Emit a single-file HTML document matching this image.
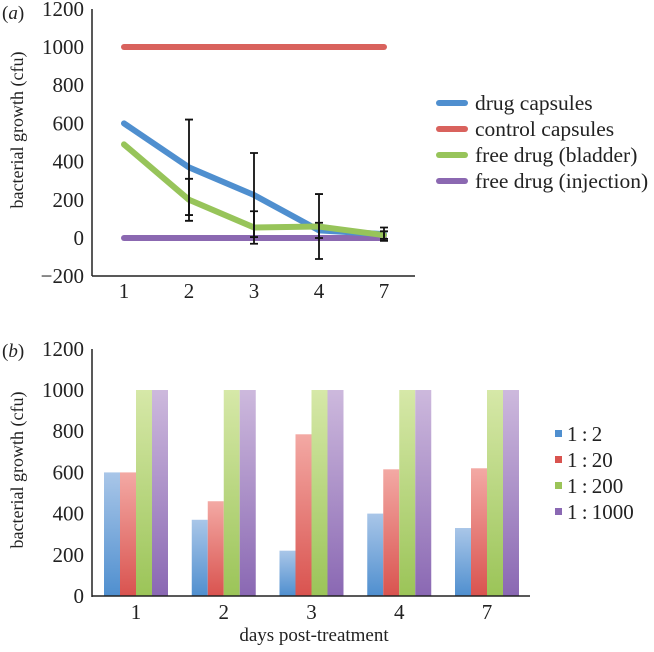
<!DOCTYPE html>
<html><head><meta charset="utf-8"><style>
body{margin:0;background:#fff;}
svg text{font-family:"Liberation Serif",serif;fill:#222;}
</style></head><body>
<svg id="c" width="654" height="647" xmlns="http://www.w3.org/2000/svg"></svg>
<script>
const lineCats=["1","2","3","4","7"];
const drugCaps=[600,370,225,40,20];
const controlCaps=[1000,1000,1000,1000,1000];
const freeBladder=[490,200,55,60,15];
const freeInj=[0,0,0,0,0];
const errDrug=[0,250,220,40,35];
const errBladder=[0,110,85,170,20];
const yTicksA=[-200,0,200,400,600,800,1000,1200];
const barCats=["1","2","3","4","7"];
const s12=[600,370,220,400,330];
const s120=[600,460,785,615,620];
const s1200=[1000,1000,1000,1000,1000];
const s11000=[1000,1000,1000,1000,1000];
const yTicksB=[0,200,400,600,800,1000,1200];

const svg=document.getElementById('c');
const NS="http://www.w3.org/2000/svg";
function mk(t,a,txt){const e=document.createElementNS(NS,t);for(const k in a)e.setAttribute(k,a[k]);if(txt!==undefined)e.textContent=txt;svg.appendChild(e);return e;}

// Panel A
const yA=v=>238-v*0.191;
const xA=i=>124+i*65;
let e;
e=mk('line',{x1:92,y1:9,x2:92,y2:276,stroke:'#222','stroke-width':1.5});

e=mk('line',{x1:92,y1:276,x2:415,y2:276,stroke:'#222','stroke-width':1.5});

yTicksA.forEach(v=>{e=mk('text',{x:84,y:yA(v)+7,'font-size':21,'text-anchor':'end'},v<0?'\u2212'+(-v):String(v));
});
lineCats.forEach((c,i)=>{e=mk('text',{x:xA(i),y:298,'font-size':21,'text-anchor':'middle'},c);
});
e=mk('text',{x:23,y:130,'font-size':18,'text-anchor':'middle',transform:'rotate(-90 23 130)'},'bacterial growth (cfu)');

e=mk('text',{x:2,y:19,'font-size':19},'');
e.innerHTML='(<tspan font-style="italic">a</tspan>)';


const series=[[controlCaps,'#d9625d','control-capsules-line'],[freeInj,'#8b68b1','free-drug-injection-line'],[drugCaps,'#4f8fcf','drug-capsules-line'],[freeBladder,'#97c45a','free-drug-bladder-line']];
series.forEach(([d,col,n])=>{e=mk('polyline',{points:d.map((v,i)=>xA(i)+','+yA(v)).join(' '),fill:'none',stroke:col,'stroke-width':6,'stroke-linecap':'round','stroke-linejoin':'round'});
});
[[drugCaps,errDrug],[freeBladder,errBladder]].forEach(([d,er])=>{d.forEach((v,i)=>{if(!er[i])return;
const x=xA(i),t=yA(v+er[i]),b=yA(v-er[i]);
e=mk('path',{d:`M${x},${t}V${b}M${x-4},${t}H${x+4}M${x-4},${b}H${x+4}`,stroke:'#111','stroke-width':1.8,fill:'none'});
});});
const legA=[['drug capsules','#4f8fcf'],['control capsules','#d9625d'],['free drug (bladder)','#97c45a'],['free drug (injection)','#8b68b1']];
legA.forEach(([t,c],i)=>{const y=103+i*26;
e=mk('line',{x1:439,y1:y,x2:465,y2:y,stroke:c,'stroke-width':6,'stroke-linecap':'round'});

e=mk('text',{x:475,y:y+7,'font-size':21.5},t);
});

// Panel B
const yB=v=>596-v*0.206;
const xB=i=>136+i*87.75;
const defs=mk('defs',{});
const cols=[['#a9c6e8','#4f8fcf'],['#f3a9a4','#d9534f'],['#d6e8a8','#9bc458'],['#cdb9dd','#8a68b3']];
cols.forEach((c,k)=>{const g=document.createElementNS(NS,'linearGradient');g.setAttribute('id','g'+k);g.setAttribute('x1',0);g.setAttribute('y1',0);g.setAttribute('x2',0);g.setAttribute('y2',1);
g.innerHTML=`<stop offset="0" stop-color="${c[0]}"/><stop offset="1" stop-color="${c[1]}"/>`;defs.appendChild(g);});
const barSeries=[[s12,'bar-1-2'],[s120,'bar-1-20'],[s1200,'bar-1-200'],[s11000,'bar-1-1000']];
barSeries.forEach(([d,n],k)=>{d.forEach((v,i)=>{const x=xB(i)-32+k*16;
e=mk('rect',{x:x,y:yB(v),width:16,height:596-yB(v),fill:`url(#g${k})`});
});});
e=mk('line',{x1:92,y1:349,x2:92,y2:597,stroke:'#222','stroke-width':1.5});

e=mk('line',{x1:92,y1:596,x2:530,y2:596,stroke:'#222','stroke-width':1.5});

yTicksB.forEach(v=>{e=mk('text',{x:84,y:yB(v)+7,'font-size':21,'text-anchor':'end'},String(v));
});
barCats.forEach((c,i)=>{e=mk('text',{x:xB(i),y:619,'font-size':21,'text-anchor':'middle'},c);
});
e=mk('text',{x:314,y:641,'font-size':19,'text-anchor':'middle'},'days post-treatment');

e=mk('text',{x:23,y:470,'font-size':18,'text-anchor':'middle',transform:'rotate(-90 23 470)'},'bacterial growth (cfu)');

e=mk('text',{x:2,y:357,'font-size':19},'');e.innerHTML='(<tspan font-style="italic">b</tspan>)';

const legB=['1\u2009:\u20092','1\u2009:\u200920','1\u2009:\u2009200','1\u2009:\u20091000'];
legB.forEach((t,k)=>{const y=434+k*26;
e=mk('rect',{x:555,y:y-4,width:7,height:7,fill:cols[k][1]});

e=mk('text',{x:567,y:y+7,'font-size':21},t);
});
</script>
</body></html>
